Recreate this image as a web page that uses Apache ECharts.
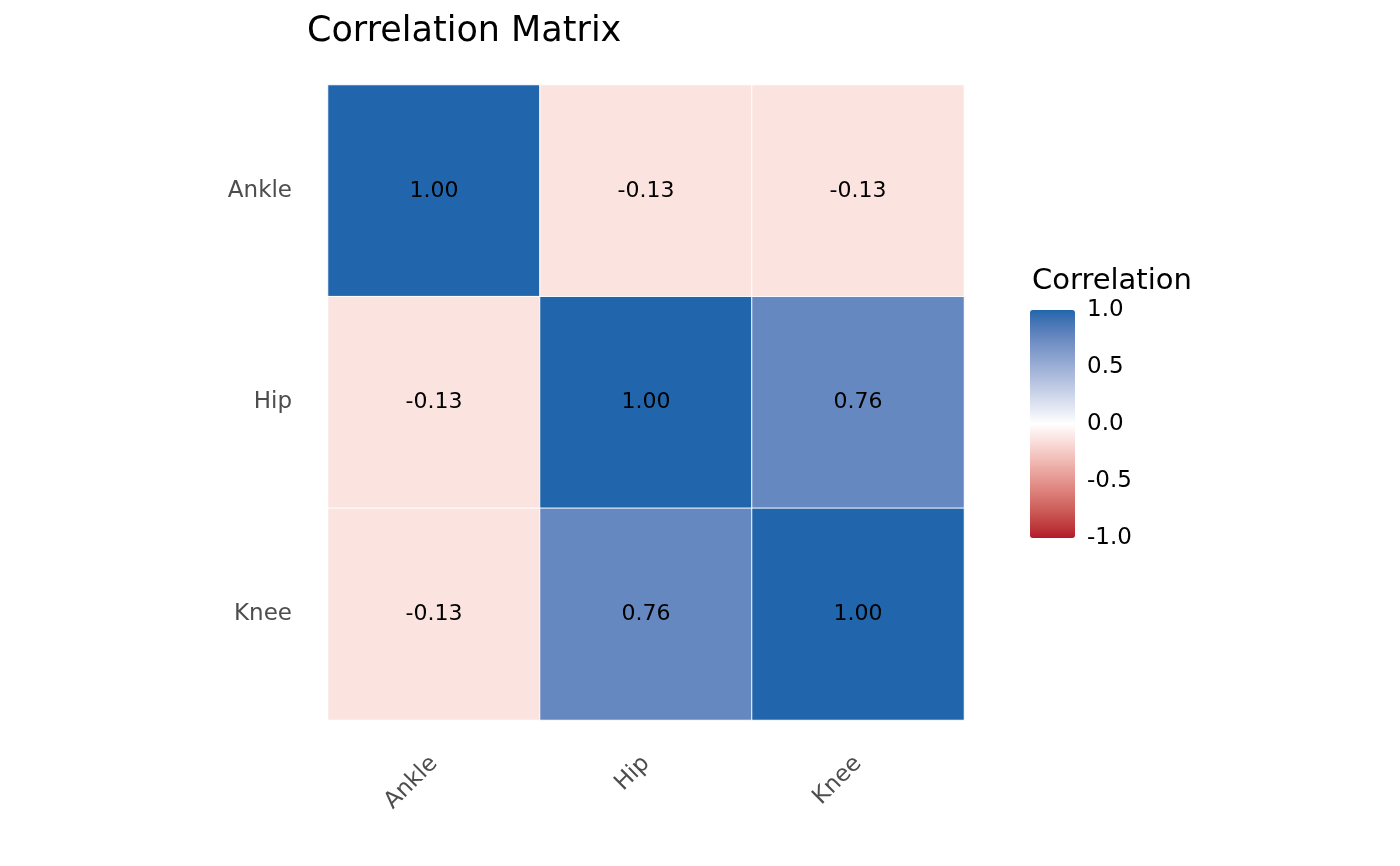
<!DOCTYPE html>
<html>
<head>
<meta charset="utf-8">
<script src="https://cdn.jsdelivr.net/npm/echarts@6/dist/echarts.min.js"></script>
<style>
  html, body { margin: 0; padding: 0; background: #fff; }
  #main { width: 1400px; height: 866px; }
</style>
</head>
<body>
<div id="main"></div>
<script>
var vars = ['Ankle', 'Hip', 'Knee'];
// rows of the matrix, same order as vars
var corrAnkle = [1.00, -0.13, -0.13];
var corrHip = [-0.13, 1.00, 0.76];
var corrKnee = [-0.13, 0.76, 1.00];
var legendTicks = [-1.0, -0.5, 0.0, 0.5, 1.0];

var rows = [corrAnkle, corrHip, corrKnee];
var cells = [];
for (var i = 0; i < rows.length; i++) {
  for (var j = 0; j < rows[i].length; j++) {
    cells.push([j, i, rows[i][j]]);
  }
}

// diverging ramp low -> white -> high, blended in CIELAB like ggplot does
function toLin(c) { c = c / 255; return c <= 0.04045 ? c / 12.92 : Math.pow((c + 0.055) / 1.055, 2.4); }
function fromLin(c) { c = c <= 0.0031308 ? 12.92 * c : 1.055 * Math.pow(c, 1 / 2.4) - 0.055; return Math.max(0, Math.min(255, Math.round(c * 255))); }
function hexToLab(h) {
  var r = toLin(parseInt(h.substr(1, 2), 16)), g = toLin(parseInt(h.substr(3, 2), 16)), b = toLin(parseInt(h.substr(5, 2), 16));
  var x = (0.4124 * r + 0.3576 * g + 0.1805 * b) / 0.95047;
  var y = (0.2126 * r + 0.7152 * g + 0.0722 * b);
  var z = (0.0193 * r + 0.1192 * g + 0.9505 * b) / 1.08883;
  var f = function (t) { return t > 0.008856 ? Math.cbrt(t) : 7.787 * t + 16 / 116; };
  var fx = f(x), fy = f(y), fz = f(z);
  return [116 * fy - 16, 500 * (fx - fy), 200 * (fy - fz)];
}
function labToHex(lab) {
  var fy = (lab[0] + 16) / 116, fx = fy + lab[1] / 500, fz = fy - lab[2] / 200;
  var inv = function (t) { return t * t * t > 0.008856 ? t * t * t : (t - 16 / 116) / 7.787; };
  var x = inv(fx) * 0.95047, y = inv(fy), z = inv(fz) * 1.08883;
  var r = 3.2406 * x - 1.5372 * y - 0.4986 * z;
  var g = -0.9689 * x + 1.8758 * y + 0.0415 * z;
  var b = 0.0557 * x - 0.2040 * y + 1.0570 * z;
  return '#' + [r, g, b].map(function (c) { var s = fromLin(c).toString(16); return s.length < 2 ? '0' + s : s; }).join('');
}
function ramp(lo, mid, hi, n) {
  var a = hexToLab(lo), m = hexToLab(mid), c = hexToLab(hi), out = [];
  for (var k = 0; k <= n; k++) {
    var t = k / n * 2 - 1, from = t < 0 ? a : c, w = Math.abs(t);
    out.push(labToHex([m[0] + (from[0] - m[0]) * w, m[1] + (from[1] - m[1]) * w, m[2] + (from[2] - m[2]) * w]));
  }
  return out;
}
var rampColors = ramp('#B2182B', '#FFFFFF', '#2166AC', 40);

var chart = echarts.init(document.getElementById('main'));
var font = "'DejaVu Sans', sans-serif";

chart.setOption({
  backgroundColor: '#fff',
  animation: false,
  textStyle: { fontFamily: font },
  title: [{
    text: 'Correlation Matrix',
    left: 302, top: 9,
    textStyle: { fontFamily: font, fontSize: 35, fontWeight: 'normal', color: '#000' }
  }, {
    text: 'Correlation',
    left: 1027, top: 262,
    textStyle: { fontFamily: font, fontSize: 29, fontWeight: 'normal', color: '#000' }
  }],
  grid: [
    { left: 328, right: 436, top: 85, bottom: 146 },
    { left: 1030, top: 310, width: 45, height: 228 }
  ],
  xAxis: [{
    type: 'category', data: vars, gridIndex: 0,
    axisLine: { show: false }, axisTick: { show: false }, splitLine: { show: false },
    axisLabel: { rotate: 45, color: '#4D4D4D', fontSize: 23, margin: 40 }
  }, {
    type: 'value', gridIndex: 1, show: false
  }],
  yAxis: [{
    type: 'category', data: vars, gridIndex: 0, inverse: true,
    axisLine: { show: false }, axisTick: { show: false }, splitLine: { show: false },
    axisLabel: { color: '#4D4D4D', fontSize: 23, margin: 36 }
  }, {
    type: 'value', gridIndex: 1, position: 'right',
    min: legendTicks[0], max: legendTicks[legendTicks.length - 1], interval: 0.5,
    axisLine: { show: false }, splitLine: { show: false },
    axisTick: { show: true, inside: true, length: 9, lineStyle: { color: '#fff', width: 1 } },
    axisLabel: { color: '#000', fontSize: 23, margin: 12, formatter: function (v) { return v.toFixed(1); } }
  }, {
    type: 'value', gridIndex: 1, position: 'left',
    min: legendTicks[0], max: legendTicks[legendTicks.length - 1], interval: 0.5,
    axisLine: { show: false }, splitLine: { show: false }, axisLabel: { show: false },
    axisTick: { show: true, inside: true, length: 9, lineStyle: { color: '#fff', width: 1 } }
  }],
  visualMap: {
    type: 'continuous',
    min: -1, max: 1,
    calculable: false,
    seriesIndex: 0,
    left: 1030, top: 310,
    itemWidth: 45, itemHeight: 228,
    padding: 0,
    text: ['', ''],
    showLabel: false,
    inRange: { color: rampColors }
  },
  series: [{
    type: 'heatmap',
    xAxisIndex: 0, yAxisIndex: 0,
    data: cells,
    itemStyle: { borderColor: '#fff', borderWidth: 1 },
    label: {
      show: true, color: '#000', fontSize: 22, fontFamily: font,
      formatter: function (p) { return p.value[2].toFixed(2); }
    },
    emphasis: { disabled: true }
  }, {
    type: 'scatter', xAxisIndex: 1, yAxisIndex: 1, data: [], silent: true
  }, {
    type: 'scatter', xAxisIndex: 1, yAxisIndex: 2, data: [], silent: true
  }]
});
</script>
</body>
</html>
